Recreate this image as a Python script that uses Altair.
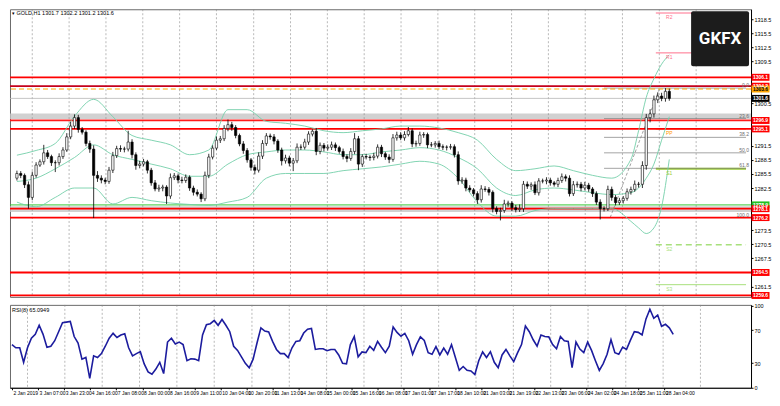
import json
import pandas as pd
import altair as alt

# ---------------- data ----------------
CLOSE = [
    1285.6, 1285.2, 1283.2, 1280.5, 1285.2, 1287.4, 1288.1, 1290.0, 1289.2, 1287.9,
    1287.9, 1289.2, 1290.6, 1293.4, 1295.7, 1297.5, 1295.0, 1294.4, 1292.0, 1290.8,
    1285.2, 1284.6, 1284.2, 1283.9, 1286.3, 1289.4, 1290.9, 1290.8, 1290.8, 1292.3,
    1289.6, 1287.3, 1287.6, 1288.1, 1286.3, 1283.6, 1282.3, 1282.5, 1282.7, 1280.8,
    1284.7, 1285.1, 1284.2, 1284.1, 1284.8, 1282.5, 1281.6, 1281.2, 1280.2, 1285.2,
    1289.1, 1291.0, 1292.7, 1293.0, 1295.2, 1296.0, 1295.4, 1293.7, 1291.9, 1290.5,
    1288.5, 1286.9, 1286.3, 1289.3, 1292.0, 1293.6, 1293.4, 1292.5, 1290.6, 1288.3,
    1288.9, 1287.8, 1288.3, 1291.2, 1291.2, 1292.3, 1294.0, 1294.6, 1290.3, 1291.6,
    1291.0, 1291.2, 1291.7, 1291.1, 1290.3, 1289.2, 1288.8, 1290.3, 1293.0, 1287.6,
    1289.2, 1289.1, 1289.0, 1289.3, 1291.2, 1289.8, 1289.1, 1288.6, 1293.2, 1293.8,
    1293.2, 1293.9, 1294.7, 1291.9, 1292.0, 1293.8, 1293.9, 1291.7, 1291.7, 1292.0,
    1291.3, 1291.2, 1291.2, 1291.3, 1289.6, 1284.0, 1284.2, 1282.5, 1282.1, 1281.3,
    1280.0, 1282.3, 1282.2, 1281.6, 1278.1, 1277.5, 1277.7, 1279.1, 1279.3, 1278.3,
    1277.9, 1278.1, 1283.3, 1282.9, 1283.2, 1281.5, 1284.0, 1284.0, 1284.2, 1283.6,
    1283.3, 1284.1, 1284.9, 1284.6, 1281.3, 1283.2, 1283.3, 1282.5, 1283.1, 1282.3,
    1281.3, 1279.5, 1278.1, 1278.1, 1282.2, 1280.5, 1279.4, 1279.8, 1280.3, 1281.7,
    1282.2, 1283.3, 1283.3, 1287.3, 1297.5, 1298.3, 1301.3, 1302.1, 1301.6, 1303.1,
    1301.6,
]
FIRST_OPEN = 1284.6
WICK_UP = [
    0.6, 0.5, 0.4, 0.7, 0.8, 0.6, 0.5, 1.7, 0.6, 0.4,
    0.5, 0.7, 0.6, 0.8, 0.9, 0.7, 0.6, 0.5, 0.4, 0.6,
    0.8, 0.9, 0.6, 0.5, 0.7, 0.8, 0.6, 0.7, 0.5, 2.4,
    0.6, 0.5, 0.7, 0.6, 0.4, 0.5, 0.6, 0.7, 0.5, 0.4,
    0.9, 0.6, 0.5, 0.7, 0.6, 0.4, 0.5, 0.6, 0.4, 0.8,
    0.7, 0.6, 0.8, 0.6, 0.7, 1.1, 0.6, 0.5, 0.4, 0.6,
    0.5, 0.4, 0.6, 0.8, 0.7, 0.6, 0.5, 0.6, 0.4, 0.5,
    0.7, 0.5, 0.6, 0.8, 0.6, 0.7, 0.6, 0.4, 0.7, 0.6,
    0.5, 0.6, 0.7, 0.5, 0.4, 0.6, 0.5, 0.7, 1.2, 0.6,
    0.5, 0.6, 0.4, 0.7, 0.6, 0.5, 0.4, 0.6, 0.8, 0.7,
    0.6, 0.7, 0.8, 0.5, 0.6, 0.7, 0.5, 0.4, 0.6, 0.5,
    0.6, 0.5, 0.4, 0.6, 0.5, 0.7, 0.6, 0.5, 0.6, 0.4,
    0.5, 0.8, 0.6, 0.5, 0.4, 0.5, 0.6, 0.9, 0.5, 0.4,
    0.6, 0.9, 0.7, 0.6, 0.5, 0.7, 0.6, 0.5, 0.6, 0.5,
    0.4, 0.6, 0.7, 0.5, 0.6, 0.8, 0.6, 0.5, 0.7, 0.5,
    0.4, 0.5, 0.6, 0.5, 0.8, 0.6, 0.5, 0.6, 0.5, 0.7,
    0.6, 0.8, 0.5, 0.9, 0.8, 1.0, 0.9, 0.8, 0.7, 0.7,
    0.6,
]
WICK_DN = [
    0.5, 0.6, 0.7, 2.4, 0.6, 0.5, 0.4, 0.6, 0.5, 0.7,
    2.0, 0.6, 0.5, 0.4, 0.5, 0.6, 0.7, 0.5, 0.6, 0.8,
    9.1, 0.8, 0.7, 0.6, 0.5, 0.6, 0.5, 0.6, 0.7, 0.5,
    0.8, 0.9, 0.6, 0.5, 0.7, 0.6, 0.5, 0.6, 0.7, 1.7,
    0.6, 0.5, 0.7, 0.6, 0.5, 0.6, 0.7, 0.5, 0.7, 0.5,
    0.6, 0.5, 0.4, 0.6, 0.5, 0.6, 0.7, 0.6, 0.5, 0.7,
    0.6, 0.7, 0.9, 0.5, 0.6, 0.5, 0.6, 0.7, 0.6, 1.0,
    0.6, 0.7, 1.7, 0.5, 0.6, 0.5, 0.6, 0.5, 0.8, 0.6,
    0.7, 0.5, 0.6, 0.7, 0.5, 0.6, 0.8, 0.5, 0.6, 1.3,
    0.6, 0.5, 0.7, 0.6, 0.5, 0.7, 0.6, 0.8, 0.5, 0.6,
    0.5, 0.6, 0.4, 0.7, 0.6, 0.5, 0.6, 0.7, 0.5, 0.6,
    0.5, 0.6, 0.7, 0.5, 0.6, 0.8, 0.6, 0.7, 0.5, 0.6,
    0.9, 0.6, 0.5, 0.7, 0.8, 0.6, 1.9, 0.5, 0.6, 0.7,
    0.6, 0.5, 0.7, 0.6, 0.8, 0.5, 0.6, 0.5, 0.7, 0.6,
    0.5, 0.6, 0.5, 0.7, 0.6, 0.5, 0.6, 0.7, 0.5, 0.6,
    0.7, 0.6, 2.3, 0.6, 0.5, 0.7, 0.6, 0.5, 0.6, 0.5,
    0.6, 0.5, 0.7, 0.8, 0.9, 1.0, 0.8, 0.7, 0.6, 0.7,
    0.5,
]

RSI = [
    52.6, 48.7, 48.7, 31.0, 48.7, 60.4, 65.1, 76.1, 65.1, 49.4,
    50.6, 57.3, 68.3, 79.2, 80.0, 80.8, 62.4, 54.5, 34.9, 36.9,
    11.4, 38.9, 36.9, 41.6, 50.6, 60.4, 66.3, 61.2, 64.3, 65.9,
    48.7, 38.9, 41.6, 44.0, 29.1, 19.3, 16.5, 22.8, 31.0, 17.3,
    55.7, 60.4, 53.4, 55.7, 52.6, 33.0, 35.3, 34.9, 33.0, 64.3,
    76.9, 78.1, 82.0, 76.1, 83.2, 76.1, 68.3, 50.6, 45.5, 37.7,
    29.8, 24.4, 34.9, 54.5, 73.0, 69.0, 67.9, 56.5, 46.7, 41.6,
    41.6, 36.9, 48.7, 56.5, 57.3, 66.7, 71.4, 72.2, 46.7, 47.5,
    47.5, 45.1, 46.7, 46.7, 40.0, 29.8, 29.1, 52.6, 62.4, 37.7,
    43.6, 42.8, 50.6, 45.5, 56.5, 49.4, 42.8, 50.6, 74.1, 67.5,
    62.8, 66.3, 57.3, 40.8, 52.6, 62.0, 57.7, 42.8, 40.8, 50.2,
    40.0, 48.3, 40.8, 52.6, 36.9, 21.2, 25.9, 21.2, 20.4, 16.1,
    33.0, 43.6, 36.9, 44.0, 31.0, 24.4, 40.0, 46.7, 38.9, 31.8,
    42.8, 52.6, 75.3, 68.3, 58.5, 50.6, 64.3, 62.4, 62.0, 52.6,
    47.5, 62.4, 57.3, 56.5, 24.4, 55.7, 47.1, 42.8, 55.7, 45.5,
    33.0, 21.2, 29.5, 40.8, 58.5, 42.8, 40.8, 49.4, 46.7, 58.1,
    68.3, 67.5, 64.3, 83.9, 95.7, 84.7, 88.6, 74.9, 77.3, 73.0,
    65.1,
]

BB_IDX = [0, 5, 10, 15, 20, 25, 30, 35, 40, 45, 50, 55, 60, 65, 70, 75, 80, 85, 90,
          95, 100, 105, 110, 115, 120, 125, 130, 135, 140, 145, 150, 155, 160,
          162, 164, 166, 168, 170]
BB_UP = [1289.5, 1290.5, 1292.0, 1297.8, 1301.4, 1297.7, 1293.7, 1292.7, 1291.7, 1289.6,
         1290.6, 1299.2, 1299.2, 1296.7, 1296.3, 1295.7, 1294.7, 1294.3, 1294.7, 1295.1,
         1295.7, 1295.7, 1295.3, 1294.3, 1292.7, 1288.6, 1286.2, 1286.6, 1287.2, 1286.2,
         1285.2, 1284.6, 1288.6, 1294.7, 1301.8, 1305.8, 1308.9, 1310.9]
BB_MID = [1283.9, 1284.6, 1286.6, 1289.0, 1291.7, 1289.6, 1288.6, 1287.6, 1286.6, 1285.0,
          1285.0, 1287.6, 1289.6, 1290.2, 1290.6, 1290.6, 1290.2, 1289.6, 1289.6, 1290.2,
          1290.6, 1291.1, 1290.6, 1289.0, 1286.6, 1282.5, 1280.9, 1282.1, 1282.5, 1282.1,
          1281.5, 1281.1, 1281.5, 1282.5, 1284.6, 1287.6, 1292.7, 1297.7]
BB_LO = [1279.5, 1278.5, 1280.5, 1282.5, 1282.5, 1279.1, 1280.5, 1279.8, 1279.3, 1279.0,
         1278.8, 1279.5, 1280.5, 1284.6, 1285.6, 1285.6, 1285.6, 1286.2, 1286.6, 1287.0,
         1287.6, 1288.2, 1287.6, 1284.6, 1279.5, 1276.5, 1276.5, 1277.7, 1278.1, 1278.1,
         1278.1, 1278.1, 1275.4, 1274.0, 1272.8, 1274.0, 1278.5, 1288.6]

TIME_LABELS = ["2 Jan 2019", "3 Jan 07:00", "3 Jan 23:00", "4 Jan 16:00", "7 Jan 08:00",
               "8 Jan 00:00", "8 Jan 16:00", "9 Jan 11:00", "10 Jan 04:00", "10 Jan 20:00",
               "11 Jan 13:00", "14 Jan 08:00", "15 Jan 00:00", "15 Jan 16:00", "16 Jan 08:00",
               "17 Jan 01:00", "17 Jan 17:00", "18 Jan 10:00", "21 Jan 03:00", "21 Jan 19:00",
               "22 Jan 13:00", "23 Jan 06:00", "24 Jan 02:00", "24 Jan 18:00", "25 Jan 11:00",
               "28 Jan 04:00"]
LABEL_STEP = 6.71
GRID_IDX = [4.0, 13.6, 23.2, 32.8, 42.4, 52.0, 61.7, 71.3, 80.9, 90.5, 100.1, 109.7,
            119.3, 128.9, 138.5, 148.1, 157.8, 167.4, 177.0]

# price-scale labels that are not hidden under a price tag
PRICE_TICKS = [1261.5, 1267.5, 1270.5, 1273.5, 1282.5, 1285.5, 1288.5, 1291.5,
               1300.5, 1309.5, 1312.5, 1315.5, 1318.5]
RSI_TICKS = [0, 30, 70, 100]

LEVEL_PRICES = [1306.1, 1304.2, 1296.9, 1295.1, 1278.1, 1276.2, 1264.5, 1259.6]
LEVEL_COLORS = ["#ff0000", "#c4001c", "#ff1a1a", "#ff0000", "#ff0000", "#ff0000", "#ff0000", "#ff0000"]
ORANGE_LEVEL = 1303.6
GREEN_LEVEL = 1278.9
BID = 1301.6
ZONE_TOP = [1298.4, 1278.6]
ZONE_BOTTOM = [1297.2, 1277.4]

TAG_PRICES = [1306.1, 1304.2, 1303.6, 1301.6, 1296.9, 1295.1, 1278.9, 1278.1, 1276.2, 1264.5, 1259.6]
TAG_FILLS = ["#ff0000", "#ff0000", "#ffa500", "#000000", "#ff0000", "#ff0000", "#1fbf1f",
             "#ff0000", "#ff0000", "#ff0000", "#ff0000"]
TAG_TEXT_COLORS = ["#ffffff", "#ffffff", "#000000", "#ffffff", "#ffffff", "#ffffff", "#ffffff",
                   "#ffffff", "#ffffff", "#ffffff", "#ffffff"]

FIB_NAMES = ["0.0", "23.6", "38.2", "50.0", "61.8", "100.0"]
FIB_PRICES = [1303.8, 1297.3, 1293.3, 1290.0, 1286.7, 1276.2]
FIB_START = 153
FIB_DIAG_IDX = [154.6, 167.5]
FIB_DIAG_PRICE = [1276.2, 1303.8]

PIVOT_NAMES = ["R2", "R1", "PP", "S1", "S2", "S3"]
PIVOT_PRICES = [1319.8, 1311.3, 1295.1, 1286.6, 1270.4, 1261.9]
PIVOT_COLORS = ["#ff6f8c", "#ff6f8c", "#ff9900", "#9acd32", "#a8e07c", "#a8e07c"]
PIVOT_WIDTHS = [1.0, 1.0, 1.0, 2.0, 1.4, 1.0]
PIVOT_DASHED = [False, False, False, False, True, False]
PIVOT_START = 166.5
PIVOT_LABEL_IDX = 170

TITLE = "\u25be GOLD,H1  1301.7 1302.2 1301.2 1301.6"
RSI_TITLE = "RSI(8) 65.0949"
LOGO = "GKFX"

# ---------------- layout ----------------
W, H1, H2 = 742, 288, 83
X_END = 190
XDOM = [-0.5, X_END]
YDOM = [1259.3, 1320.6]
FONT = "Liberation Sans"
NARROW = "Liberation Sans Narrow, Liberation Sans"

YAXIS = alt.Axis(orient="right", values=PRICE_TICKS, format=".1f", title=None,
                 labelFontSize=5.5, tickSize=2, labelPadding=1, grid=False,
                 labelFlush=False, labelOverlap=False, zindex=0)


def xq(field, axis=None):
    return alt.X(field, type="quantitative",
                 scale=alt.Scale(domain=XDOM, nice=False, zero=False), axis=axis)


def yq(field):
    return alt.Y(field, type="quantitative",
                 scale=alt.Scale(domain=YDOM, nice=False, zero=False), axis=YAXIS)


# candles
opens = [FIRST_OPEN] + CLOSE[:-1]
candles = pd.DataFrame({
    "i": list(range(len(CLOSE))),
    "open": opens,
    "close": CLOSE,
    "high": [max(o, c) + u for o, c, u in zip(opens, CLOSE, WICK_UP)],
    "low": [min(o, c) - d for o, c, d in zip(opens, CLOSE, WICK_DN)],
    "fill": ["#ffffff" if c >= o else "#000000" for o, c in zip(opens, CLOSE)],
})

bb = pd.DataFrame({
    "i": BB_IDX * 3,
    "v": BB_UP + BB_MID + BB_LO,
    "band": ["up"] * len(BB_IDX) + ["mid"] * len(BB_IDX) + ["lo"] * len(BB_IDX),
})

grid_df = pd.DataFrame({"g": GRID_IDX})
zones_df = pd.DataFrame({"top": ZONE_TOP, "bottom": ZONE_BOTTOM})
levels_df = pd.DataFrame({"p": LEVEL_PRICES, "c": LEVEL_COLORS})
tags_df = pd.DataFrame({"p": TAG_PRICES, "f": TAG_FILLS, "tc": TAG_TEXT_COLORS,
                        "t": [f"{p:.1f}" for p in TAG_PRICES]})
fib_df = pd.DataFrame({"p": FIB_PRICES, "n": FIB_NAMES,
                       "x0": [FIB_START] * len(FIB_PRICES), "x1": [X_END] * len(FIB_PRICES)})
fib_diag = pd.DataFrame({"i": FIB_DIAG_IDX, "p": FIB_DIAG_PRICE})
piv_df = pd.DataFrame({"p": PIVOT_PRICES, "n": PIVOT_NAMES, "c": PIVOT_COLORS,
                       "w": PIVOT_WIDTHS, "dashed": PIVOT_DASHED,
                       "x0": [PIVOT_START] * 6, "x1": [X_END] * 6,
                       "lx": [PIVOT_LABEL_IDX] * 6})
one = pd.DataFrame({"t": [TITLE], "r": [RSI_TITLE], "logo": [LOGO]})

zones = alt.Chart(zones_df).mark_rect(color="#c6c6c6", opacity=0.8).encode(
    x=alt.value(0), x2=alt.value(W), y=yq("top"), y2=alt.Y2("bottom"))
grid_main = alt.Chart(grid_df).mark_rule(color="#8a8a8a", strokeDash=[2, 2], strokeWidth=0.6).encode(
    x=xq("g"))
bid = alt.Chart(pd.DataFrame({"p": [BID]})).mark_rule(color="#b8b8b8", strokeWidth=0.8).encode(
    y=yq("p"))
piv_solid = alt.Chart(piv_df[~piv_df["dashed"]]).mark_rule().encode(
    x=xq("x0"), x2=alt.X2("x1"), y=yq("p"),
    color=alt.Color("c:N", scale=None), strokeWidth=alt.StrokeWidth("w:Q", scale=None))
piv_dash = alt.Chart(piv_df[piv_df["dashed"]]).mark_rule(strokeDash=[6, 4]).encode(
    x=xq("x0"), x2=alt.X2("x1"), y=yq("p"),
    color=alt.Color("c:N", scale=None), strokeWidth=alt.StrokeWidth("w:Q", scale=None))
piv_text = alt.Chart(piv_df).mark_text(fontSize=5, font=FONT, dy=4, align="center").encode(
    x=xq("lx"), y=yq("p"), text="n:N", color=alt.Color("c:N", scale=None))
fib_lines = alt.Chart(fib_df).mark_rule(color="#7c7c7c", strokeWidth=0.7).encode(
    x=xq("x0"), x2=alt.X2("x1"), y=yq("p"))
fib_text = alt.Chart(fib_df).mark_text(fontSize=5, font=FONT, color="#707070", align="right", dy=-3).encode(
    x=alt.value(W - 2), y=yq("p"), text="n:N")
fib_line_diag = alt.Chart(fib_diag).mark_line(color="#8a8a8a", strokeWidth=0.8, strokeDash=[3, 2]).encode(
    x=xq("i"), y=yq("p"))
levels = alt.Chart(levels_df).mark_rule(strokeWidth=1.8).encode(
    y=yq("p"), color=alt.Color("c:N", scale=None))
orange = alt.Chart(pd.DataFrame({"p": [ORANGE_LEVEL]})).mark_rule(
    color="#ffa500", strokeWidth=1.2, strokeDash=[5, 3]).encode(y=yq("p"))
green = alt.Chart(pd.DataFrame({"p": [GREEN_LEVEL]})).mark_rule(
    color="#33c833", strokeWidth=1).encode(y=yq("p"))
bands = alt.Chart(bb).mark_line(color="#74cfa9", strokeWidth=0.9, interpolate="monotone").encode(
    x=xq("i"), y=yq("v"), detail="band:N")
wicks = alt.Chart(candles).mark_rule(color="#000000", strokeWidth=0.8).encode(
    x=xq("i"), y=yq("low"), y2=alt.Y2("high"))
bodies = alt.Chart(candles).mark_bar(size=2.3, stroke="#000000", strokeWidth=0.6, orient="vertical").encode(
    x=xq("i"), y=yq("open"), y2=alt.Y2("close"), fill=alt.Fill("fill:N", scale=None))
TAG_SHAPE = "M-1.5,-0.58L1.5,-0.58L1.5,0.58L-1.5,0.58Z"
tags = alt.Chart(tags_df).mark_point(shape=TAG_SHAPE, size=144, filled=True, opacity=1, strokeWidth=0).encode(
    x=alt.value(W + 9.5), y=yq("p"), fill=alt.Fill("f:N", scale=None))
tag_text = alt.Chart(tags_df).mark_text(fontSize=5, font=FONT, fontWeight="bold", align="center",
                                        baseline="middle").encode(
    x=alt.value(W + 9.5), y=yq("p"), text="t:N", color=alt.Color("tc:N", scale=None))
title = alt.Chart(one).mark_text(align="left", baseline="middle", fontSize=5.5, font=FONT,
                                 color="#000000").encode(
    x=alt.value(2), y=alt.value(4), text="t:N")
logo_box = alt.Chart(one).mark_rect(color="#1c1c1c", cornerRadius=2).encode(
    x=alt.value(682), x2=alt.value(740), y=alt.value(2), y2=alt.value(57))
logo_text = alt.Chart(one).mark_text(fontSize=17, font="Roboto", fontWeight="bold", color="#ffffff",
                                     align="center", baseline="middle").encode(
    x=alt.value(711), y=alt.value(30), text="logo:N")

main = alt.layer(
    zones, grid_main, bid, piv_solid, piv_dash, fib_lines, fib_line_diag,
    levels, orange, green, bands, wicks, bodies, piv_text, fib_text,
    tags, tag_text, title, logo_box, logo_text,
).properties(width=W, height=H1)

# RSI panel
rsi_df = pd.DataFrame({"i": list(range(len(RSI))), "r": RSI})
label_expr = json.dumps(TIME_LABELS) + f"[round(datum.value / {LABEL_STEP})]"
XAXIS = alt.Axis(values=[round(k * LABEL_STEP, 3) for k in range(len(TIME_LABELS))],
                 labelExpr=label_expr, labelAlign="left", labelOffset=1, labelFontSize=5,
                 labelFont=NARROW, tickSize=2, labelPadding=1, labelOverlap=False,
                 labelFlush=False, labelBound=False, grid=False, title=None)
RAXIS = alt.Axis(orient="right", values=RSI_TICKS, title=None, labelFontSize=5.5, tickSize=2,
                 labelPadding=1, grid=False, labelFlush=False)
RSCALE = alt.Scale(domain=[0, 101], nice=False, zero=False)

grid_rsi = alt.Chart(grid_df).mark_rule(color="#8a8a8a", strokeDash=[2, 2], strokeWidth=0.6).encode(
    x=xq("g", axis=XAXIS))
rsi_line = alt.Chart(rsi_df).mark_line(color="#1c1c9e", strokeWidth=1.6).encode(
    x=xq("i", axis=XAXIS), y=alt.Y("r:Q", scale=RSCALE, axis=RAXIS))
rsi_title = alt.Chart(one).mark_text(align="left", baseline="middle", fontSize=5.5, font=FONT,
                                     color="#000000").encode(
    x=alt.value(2), y=alt.value(5), text="r:N")
rsi = alt.layer(grid_rsi, rsi_line, rsi_title).properties(width=W, height=H2)

chart = alt.vconcat(main, rsi, spacing=3).properties(
    padding=0, background="#ffffff"
).configure_view(
    stroke="#6a6a6a", strokeWidth=1
).configure_axis(
    labelFont=FONT, labelColor="#000000", tickColor="#000000", domainColor="#000000"
)

chart.save("out.html", embed_options={"renderer": "svg", "actions": False})
